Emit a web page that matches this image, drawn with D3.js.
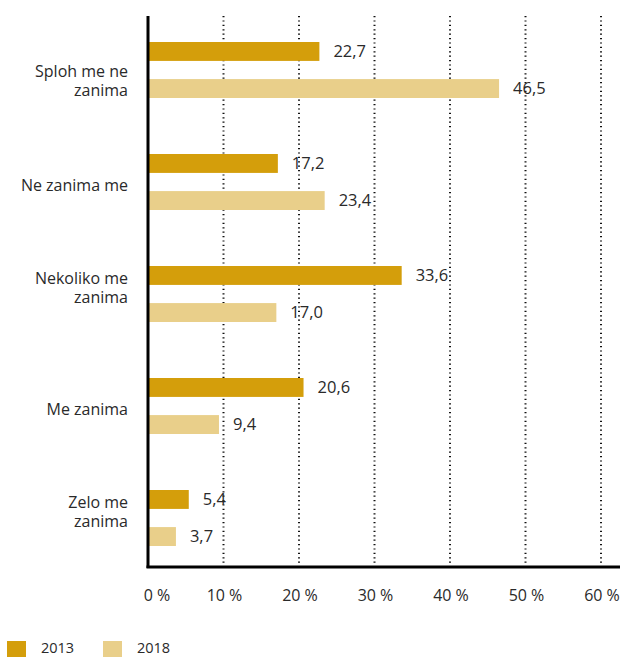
<!DOCTYPE html>
<html>
<head>
<meta charset="utf-8">
<script src="https://cdn.jsdelivr.net/npm/d3@7"></script>
<style>
  body { margin: 0; background: #fff; }
  svg { display: block; font-family: "Open Sans", "Noto Sans", sans-serif; }
</style>
</head>
<body>
<svg id="chart" width="620" height="658"></svg>
<script>
const categories = [["Sploh me ne", "zanima"], ["Ne zanima me"], ["Nekoliko me", "zanima"], ["Me zanima"], ["Zelo me", "zanima"]];
const series = ["2013", "2018"];
const values2013 = [22.7, 17.2, 33.6, 20.6, 5.4];
const values2018 = [46.5, 23.4, 17.0, 9.4, 3.7];
const ticks = [0, 10, 20, 30, 40, 50, 60];
const colors = ["#D49E0B", "#E9CF8A"];

const svg = d3.select("#chart");
const x = d3.scaleLinear().domain([0, 60]).range([148, 601]);
const y = d3.scaleBand().domain(d3.range(categories.length)).range([14, 574]);
const yInner = d3.scaleBand().domain(series).range([28, 84]).paddingInner(0.49);
const fmt = v => d3.format(".1f")(v).replace(".", ",");
const textColor = "#2a2a2a";

// gridlines
svg.append("g").selectAll("line").data(ticks.slice(1)).join("line")
  .attr("x1", d => x(d)).attr("x2", d => x(d))
  .attr("y1", 16).attr("y2", 566)
  .attr("stroke", "#111").attr("stroke-width", 2).attr("stroke-dasharray", "1.2,3.2");

const data = [values2013, values2018];
const groups = svg.append("g").selectAll("g").data(categories).join("g")
  .attr("transform", (d, i) => `translate(0,${y(i)})`);

series.forEach((s, si) => {
  groups.append("rect")
    .attr("x", x(0))
    .attr("y", yInner(s))
    .attr("width", (d, i) => x(data[si][i]) - x(0))
    .attr("height", yInner.bandwidth())
    .attr("fill", colors[si]);
  groups.append("text")
    .attr("x", (d, i) => x(data[si][i]) + 14)
    .attr("y", yInner(s) + yInner.bandwidth() / 2 + 5.5)
    .attr("font-size", 16.5).attr("fill", textColor)
    .text((d, i) => fmt(data[si][i]));
});

// category labels (last line sits slightly below the group centre; first group is set lower)
groups.append("text")
  .attr("text-anchor", "end")
  .attr("font-size", 16).attr("fill", textColor)
  .each(function(d, i) {
    const t = d3.select(this);
    const lh = 19;
    const last = y.bandwidth() / 2 + 9 + (i === 0 ? 17 : 0);
    d.forEach((line, li) => {
      t.append("tspan").attr("x", 128).attr("y", last - (d.length - 1 - li) * lh).text(line);
    });
  });

// axes lines
svg.append("line").attr("x1", x(0)).attr("x2", x(0)).attr("y1", 16).attr("y2", 568)
  .attr("stroke", "#000").attr("stroke-width", 3);
svg.append("line").attr("x1", x(0) - 1.5).attr("x2", 620).attr("y1", 567).attr("y2", 567)
  .attr("stroke", "#000").attr("stroke-width", 3);

// tick labels
svg.append("g").selectAll("text").data(ticks).join("text")
  .attr("x", d => x(d) + (d === 0 ? 9 : 1)).attr("y", 601)
  .attr("text-anchor", "middle").attr("font-size", 16).attr("fill", textColor)
  .text(d => d + " %");

// legend
const legendX = [7, 103];
series.forEach((s, i) => {
  svg.append("rect").attr("x", legendX[i]).attr("y", 641).attr("width", 19).attr("height", 16).attr("fill", colors[i]);
  svg.append("text").attr("x", legendX[i] + 34).attr("y", 653).attr("font-size", 14.5).attr("fill", textColor).text(s);
});
</script>
</body>
</html>
